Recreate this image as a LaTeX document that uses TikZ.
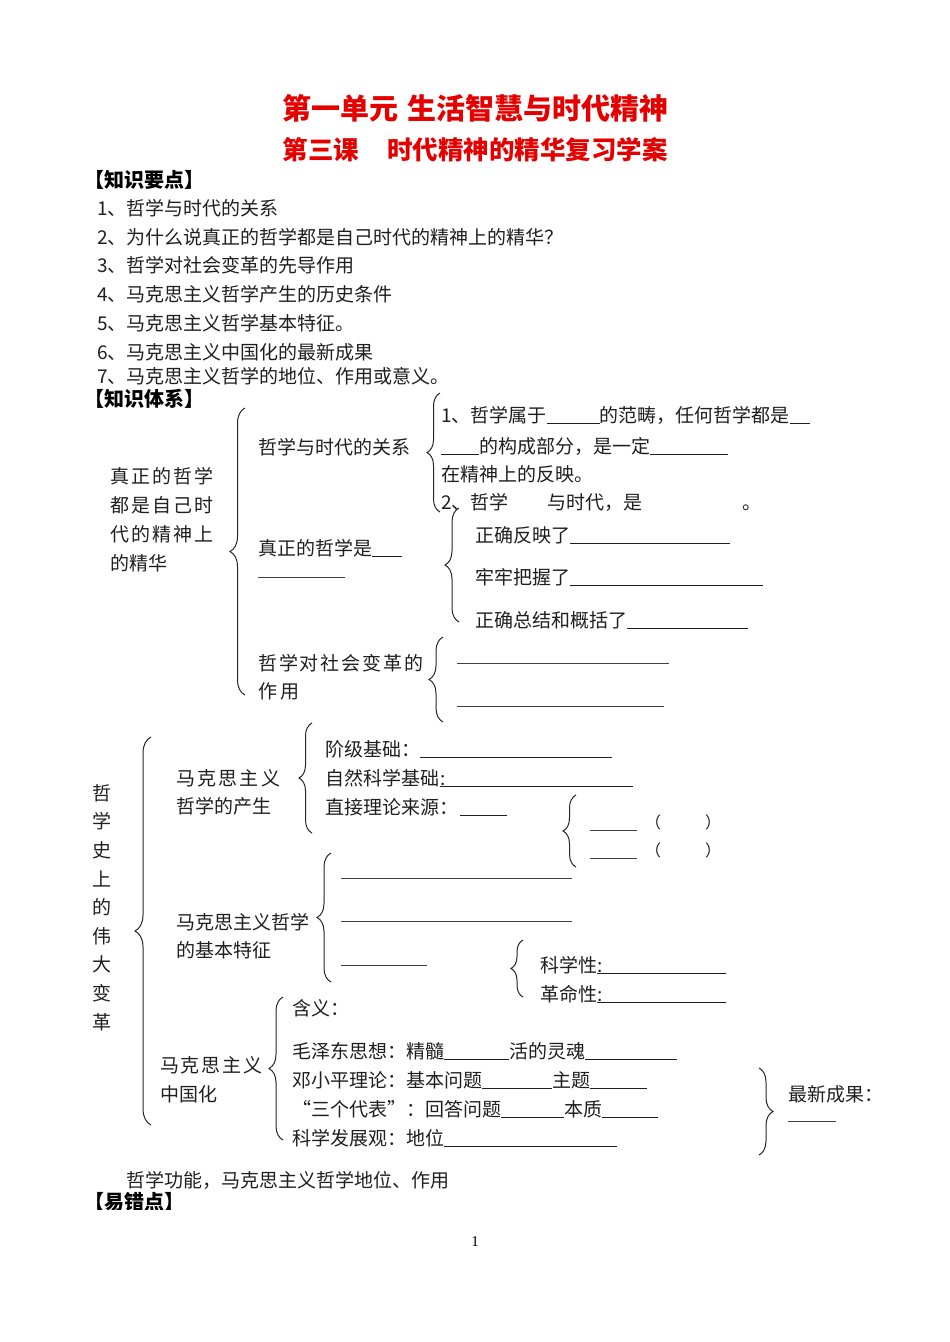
\documentclass[tikz,border=0pt]{standalone}
\usepackage{fontspec}
\setmainfont{Noto Sans CJK SC}
\newfontfamily\serif{Liberation Serif}
\usetikzlibrary{decorations.pathreplacing}
\newcommand\blank[1]{\rule[-1.5pt]{#1}{0.8pt}}
\tikzset{
 txt/.style={anchor=base west, inner sep=0pt, font=\fontsize{19}{23}\selectfont, text=black!88},
 brc/.style={decorate, decoration={brace, amplitude=#1}, line width=1pt, black!85},
 ln/.style={line width=0.9pt, black!75},
 hd/.style={anchor=base west, inner sep=0pt, font=\fontsize{20}{24}\selectfont\bfseries},
 ttl/.style={inner sep=0pt, text=red!90!black},
}
\begin{document}
\begin{tikzpicture}[x=1pt,y=-1pt]
\fill[white] (0,0) rectangle (950,1342);
\useasboundingbox (0,0) rectangle (950,1342);
% titles
\node[ttl, font=\fontsize{29}{34}\selectfont\bfseries] (t1) at (475.5,108) {第一单元\hspace{10pt}生活智慧与时代精神};
\node[ttl, font=\fontsize{25.5}{30}\selectfont\bfseries] (t2) at (475,150) {第三课\hspace{28pt}时代精神的精华复习学案};
\node[hd] (h1) at (84,187) {【知识要点】};
\node[txt] (k1) at (97,215) {1、哲学与时代的关系};
\node[txt] (k2) at (97,244) {2、为什么说真正的哲学都是自己时代的精神上的精华？};
\node[txt] (k3) at (97,272) {3、哲学对社会变革的先导作用};
\node[txt] (k4) at (97,301) {4、马克思主义哲学产生的历史条件};
\node[txt] (k5) at (97,330) {5、马克思主义哲学基本特征。};
\node[txt] (k6) at (97,359) {6、马克思主义中国化的最新成果};
\node[txt] (k7) at (97,383) {7、马克思主义哲学的地位、作用或意义。};
\node[hd] (h2) at (84,406) {【知识体系】};
% part 1
\node[txt, align=left, font=\fontsize{19}{28.7}\selectfont] (a0) at (110,570)
 {\makebox[103pt]{真\hfill 正\hfill 的\hfill 哲\hfill 学}\\
  \makebox[103pt]{都\hfill 是\hfill 自\hfill 己\hfill 时}\\
  \makebox[103pt]{代\hfill 的\hfill 精\hfill 神\hfill 上}\\
  的精华};
\draw[brc=15pt] (245,695) -- (245,408);
\node[txt] (a1) at (258,454) {哲学与时代的关系};
\node[txt] (a2) at (258,555) {真正的哲学是\blank{30pt}};
\draw[ln] (258,577) -- (345,577);
\node[txt] (a3) at (258,670) {\makebox[165pt]{哲\hfill 学\hfill 对\hfill 社\hfill 会\hfill 变\hfill 革\hfill 的}};
\node[txt] (a3b) at (258,698) {作\hspace{3pt}用};
\draw[brc=13pt] (440,512) -- (440,393);
\node[txt] (b1) at (441,422) {1、哲学属于\blank{53pt}的范畴，任何哲学都是\blank{20pt}};
\node[txt] (b2) at (441,453) {\blank{38pt}的构成部分，是一定\blank{78pt}};
\node[txt] (b3) at (441,481) {在精神上的反映。};
\node[txt] (b4) at (441,509) {2、哲学\hspace{39pt}与时代，是\hspace{100pt}。};
\draw[brc=14pt] (459,622) -- (459,508);
\node[txt] (c1) at (475,542) {正确反映了\blank{160pt}};
\node[txt] (c2) at (475,584) {牢牢把握了\blank{193pt}};
\node[txt] (c3) at (475,627) {正确总结和概括了\blank{121pt}};
\draw[brc=14pt] (443,722) -- (443,637);
\draw[ln] (457,663) -- (669,663);
\draw[ln] (457,706) -- (664,706);
% part 2
\draw[brc=16pt] (151,1125) -- (151,737);
\node[inner sep=0pt, align=center, font=\fontsize{19}{28.6}\selectfont, text=black!88] (v) at (102,907.5)
 {哲\\学\\史\\上\\的\\伟\\大\\变\\革};
\node[txt] (m1) at (176,785) {\makebox[104pt]{马\hfill 克\hfill 思\hfill 主\hfill 义}};
\node[txt] (m1b) at (176,813) {哲学的产生};
\draw[brc=13pt] (312,833) -- (312,723);
\node[txt] (d1) at (325,756) {阶级基础：\blank{192pt}};
\node[txt] (d2) at (325,785) {自然科学基础\hspace{1pt}\rlap{:}\blank{193pt}};
\node[txt] (d3) at (325,814) {直接理论来源：\hspace{2pt}\blank{47pt}};
\draw[brc=13pt] (576,867) -- (576,795);
\draw[ln] (590,830) -- (637,830);
\draw[ln] (590,858) -- (637,858);
\node[txt, font=\fontsize{16}{19}\selectfont] (p1) at (645,828) {（\hspace{44pt}）};
\node[txt, font=\fontsize{16}{19}\selectfont] (p2) at (645,856) {（\hspace{44pt}）};
\node[txt] (m2) at (176,929) {马克思主义哲学};
\node[txt] (m2b) at (176,957) {的基本特征};
\draw[brc=14pt] (331,982) -- (331,853);
\draw[ln] (341,878) -- (572,878);
\draw[ln] (341,921) -- (572,921);
\draw[ln] (341,965) -- (427,965);
\draw[brc=12pt] (523,997) -- (523,940);
\node[txt] (e1) at (540,972) {科学性\rlap{:}\blank{129pt}};
\node[txt] (e2) at (540,1001) {革命性\rlap{:}\blank{129pt}};
\node[txt] (m3) at (160,1072) {\makebox[102pt]{马\hfill 克\hfill 思\hfill 主\hfill 义}};
\node[txt] (m3b) at (160,1101) {中国化};
\draw[brc=14pt] (283,1140) -- (283,997);
\node[txt] (f1) at (292,1015) {含义：};
\node[txt] (f2) at (292,1058) {毛泽东思想：精髓\blank{65pt}活的灵魂\blank{92pt}};
\node[txt] (f3) at (292,1087) {邓小平理论：基本问题\blank{70pt}主题\blank{57pt}};
\node[txt] (f4) at (292,1116) {“三个代表”：回答问题\blank{63pt}本质\blank{56pt}};
\node[txt] (f5) at (292,1145) {科学发展观：地位\blank{173pt}};
\draw[brc=14pt] (759,1068) -- (759,1155);
\node[txt] (g1) at (788,1101) {最新成果：};
\draw[ln] (788,1121) -- (836,1121);
\node[txt] (z1) at (126,1187) {哲学功能，马克思主义哲学地位、作用};
\begin{scope}
\clip (80,1185) rectangle (210,1209);
\node[hd] (h3) at (84,1209) {【易错点】};
\end{scope}
\node[inner sep=0pt, font=\fontsize{15}{18}\selectfont\serif] (pg) at (475,1242) {1};
\end{tikzpicture}
\end{document}
